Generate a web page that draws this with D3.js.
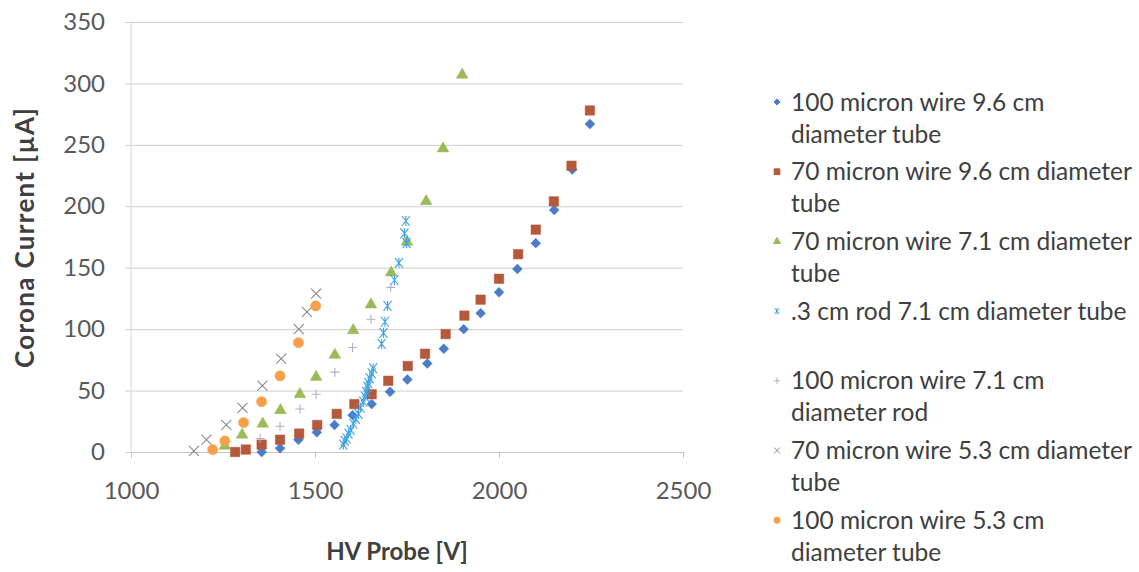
<!DOCTYPE html>
<html lang="en">
<head>
    <meta charset="UTF-8">
    <title>Corona current</title>
    <script src="https://d3js.org/d3.v7.min.js"></script>
    <style>
        body { margin: 0; background: #fff; }
        text { font-family: Lato, "Open Sans", sans-serif; }
    </style>
</head>
<body>
<script>
    const width  = 1139;
    const height = 572;

    // data: HV probe [V] and corona current [uA]
    const wire100_96V = [1355,1405,1455,1505,1553,1602,1654,1704,1751,1805,1850,1904,1950,2000,2050,2100,2150,2199,2247];
    const wire100_96I = [0,3,10,16,22,30,39,49,59,72,84,100,113,130,149,170,197,230,267];

    const wire70_96V = [1283,1312,1355,1405,1457,1506,1559,1607,1654,1699,1752,1799,1855,1906,1950,2000,2052,2100,2149,2197,2247];
    const wire70_96I = [0,2,6,10,15,22,31,39,47,58,70,80,96,111,124,141,161,181,204,233,278];

    const wire70_71V = [1255,1302,1358,1406,1459,1503,1554,1604,1652,1707,1750,1802,1848,1900];
    const wire70_71I = [5,14,23,34,47,61,79,99,120,146,171,204,247,307];

    const rod3_71V = [1577,1581,1586,1591,1597,1604,1611,1618,1624,1631,1636,1639,1643,1645,1649,1654,1658,1681,1686,1690,1697,1716,1728,1743,1747,1749];
    const rod3_71I = [6,9,11,15,18,23,27,31,36,41,45,49,53,56,60,64,68,88,97,106,119,140,154,178,188,170];

    const wire100_71V = [1351,1405,1459,1503,1554,1602,1652,1706];
    const wire100_71I = [11,21,35,47,65,85,108,134];

    const wire70_53V = [1171,1205,1259,1303,1357,1408,1456,1478,1503];
    const wire70_53I = [1,10,22,36,54,76,100,114,129];

    const wire100_53V = [1222,1255,1306,1355,1405,1455,1502];
    const wire100_53I = [2,9,24,41,62,89,119];

    const seriesNames = [
      ["100 micron wire 9.6 cm", "diameter tube"],
      ["70 micron wire 9.6 cm diameter", "tube"],
      ["70 micron wire 7.1 cm diameter", "tube"],
      [".3 cm rod 7.1 cm diameter tube", ""],
      ["100 micron wire 7.1 cm", "diameter rod"],
      ["70 micron wire 5.3 cm diameter", "tube"],
      ["100 micron wire 5.3 cm", "diameter tube"]
    ];
    const xTicks = [1000, 1500, 2000, 2500];
    const yTicks = [0, 50, 100, 150, 200, 250, 300, 350];

    const seriesX = [wire100_96V, wire70_96V, wire70_71V, rod3_71V, wire100_71V, wire70_53V, wire100_53V];
    const seriesY = [wire100_96I, wire70_96I, wire70_71I, rod3_71I, wire100_71I, wire70_53I, wire100_53I];
    const colors  = ["#4a7cc8", "#b5583b", "#9bbb59", "#3fa2e2", "#b0b0c8", "#8a8a8a", "#f7a048"];
    const shapes  = ["diamond", "square", "triangle", "asterisk", "plus", "cross", "circle"];

    const scaleX = d3.scaleLinear().domain([1000, 2500]).range([131, 683]);
    const scaleY = d3.scaleLinear().domain([0, 350]).range([452, 22]);

    const svg = d3.select("body").append("svg").attr("width", width).attr("height", height);

    // horizontal gridlines + y tick labels
    const yAxis = d3.axisLeft(scaleY).tickValues(yTicks).tickSize(-(683 - 125)).tickPadding(20);
    const gy = svg.append("g").attr("transform", "translate(125,0)").call(yAxis);
    gy.select(".domain").remove();
    gy.selectAll("line").attr("stroke", "#cfcfcf");
    gy.selectAll("text").attr("fill", "#595959").style("font-size", "24px");

    svg.append("line")
        .attr("x1", scaleX(1000)).attr("x2", scaleX(1000))
        .attr("y1", scaleY(0)).attr("y2", scaleY(350))
        .attr("stroke", "#d4d4d4");

    const xAxis = d3.axisBottom(scaleX).tickValues(xTicks).tickSize(6).tickPadding(24).tickFormat(d3.format("d"));
    const gx = svg.append("g").attr("transform", "translate(0," + scaleY(0) + ")").call(xAxis);
    gx.select(".domain").attr("stroke", "#c4c4c4");
    gx.selectAll("line").attr("stroke", "#c4c4c4");
    gx.selectAll("text").attr("fill", "#595959").style("font-size", "24px");

    function marker(shape, r) {
        switch (shape) {
            case "diamond":  return d3.symbol().type(d3.symbolDiamond2).size(r * r * 2.5)();
            case "square":   return d3.symbol().type(d3.symbolSquare).size(r * r * 3.6)();
            case "triangle": return d3.symbol().type(d3.symbolTriangle).size(r * r * 2.4)();
            case "circle":   return d3.symbol().type(d3.symbolCircle).size(r * r * 3.3)();
            case "plus":     return `M${-r},0L${r},0M0,${-r}L0,${r}`;
            case "cross":    return `M${-r},${-r}L${r},${r}M${-r},${r}L${r},${-r}`;
            case "asterisk": return `M${-r*0.8},${-r}L${r*0.8},${r}M${-r*0.8},${r}L${r*0.8},${-r}M0,${-r}L0,${r}`;
        }
    }
    const filled = s => ["diamond", "square", "triangle", "circle"].includes(s);

    seriesX.forEach((xs, i) => {
        const pts = xs.map((v, j) => [v, seriesY[i][j]]);
        const g = svg.append("g").attr("class", "dataset");
        g.selectAll("path")
            .data(pts).enter()
            .append("path")
            .attr("d", marker(shapes[i], shapes[i] === "plus" ? 4.5 : 5))
            .attr("fill", filled(shapes[i]) ? colors[i] : "none")
            .attr("stroke", colors[i])
            .attr("stroke-width", filled(shapes[i]) ? 0.5 : 1.1)
            .attr("transform", d => "translate(" + [scaleX(d[0]), scaleY(d[1])] + ")");
    });

    // axis titles
    svg.append("text")
        .attr("transform", "translate(34,238) rotate(-90)")
        .attr("text-anchor", "middle")
        .attr("fill", "#404040")
        .style("font-size", "26px").style("font-weight", "bold")
        .attr("textLength", 260).attr("lengthAdjust", "spacing")
        .text("Corona Current [µA]");
    svg.append("text")
        .attr("x", 397).attr("y", 560)
        .attr("text-anchor", "middle")
        .attr("fill", "#404040")
        .style("font-size", "24px").style("font-weight", "bold")
        .text("HV Probe [V]");

    // legend
    const legend = svg.append("g").attr("class", "legend");
    seriesNames.forEach((lines, i) => {
        const y0 = 102 + i * 69.7;
        legend.append("path")
            .attr("d", marker(shapes[i], 3))
            .attr("fill", filled(shapes[i]) ? colors[i] : "none")
            .attr("stroke", colors[i])
            .attr("stroke-width", 1)
            .attr("transform", "translate(" + [777, y0] + ")");
        lines.forEach((t, k) => {
            legend.append("text")
                .attr("x", 791).attr("y", y0 + k * 32)
                .attr("dy", "0.35em")
                .attr("fill", "#404040")
                .style("font-size", "24.5px")
                .text(t);
        });
    });
</script>
</body>
</html>
